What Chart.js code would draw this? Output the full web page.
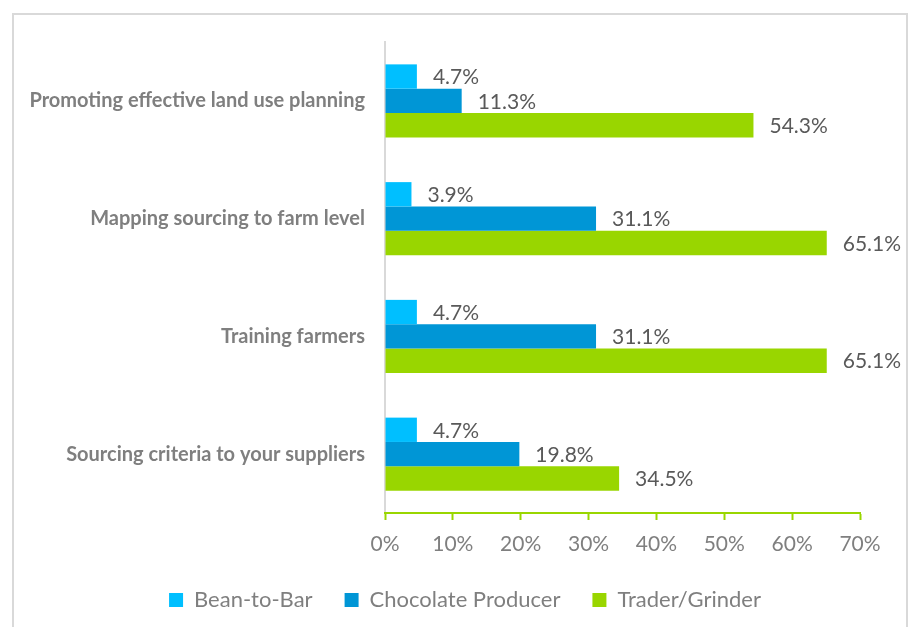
<!DOCTYPE html>
<html>
<head>
<meta charset="utf-8">
<script src="https://cdn.jsdelivr.net/npm/chart.js@4.4.1/dist/chart.umd.min.js"></script>
<style>
  html, body { margin: 0; padding: 0; background: #fff; }
  #frame {
    position: absolute; left: 12px; top: 13px;
    width: 896px; height: 700px;
    border: 2px solid #d9d9d9; box-sizing: border-box;
  }
  #wrap { position: absolute; left: 0; top: 0; width: 917px; height: 627px; }
</style>
</head>
<body>
<div id="frame"></div>
<div id="wrap"><canvas id="chart"></canvas></div>
<script>
const categories = [
  "Promoting effective land use planning",
  "Mapping sourcing to farm level",
  "Training farmers",
  "Sourcing criteria to your suppliers",
];
const beanToBar = [4.7, 3.9, 4.7, 4.7];
const chocolateProducer = [11.3, 31.1, 31.1, 19.8];
const traderGrinder = [54.3, 65.1, 65.1, 34.5];
const xTicks = [0, 10, 20, 30, 40, 50, 60, 70];

const seriesColours = ["#00bfff", "#0096d6", "#99d600"];
const font = "Lato";

// draws the value at the end of every bar
const barLabels = {
  id: "barLabels",
  afterDatasetsDraw(chart) {
    const ctx = chart.ctx;
    ctx.save();
    ctx.font = "21px " + font;
    ctx.fillStyle = "#595959";
    ctx.textAlign = "left";
    ctx.textBaseline = "middle";
    chart.data.datasets.forEach((ds, i) => {
      chart.getDatasetMeta(i).data.forEach((bar, j) => {
        ctx.fillText(ds.data[j].toFixed(1) + "%", bar.x + 16, bar.y + 1);
      });
    });
    ctx.restore();
  },
};

// centre the legend on the whole frame, not just the plot width
const legendCentre = {
  id: "legendCentre",
  beforeDraw(chart) {
    chart.legend.left = 13;
    chart.legend.right = 917;
  },
};

new Chart(document.getElementById("chart"), {
  type: "bar",
  data: {
    labels: categories,
    datasets: [
      { label: "Bean-to-Bar", data: beanToBar, backgroundColor: seriesColours[0] },
      { label: "Chocolate Producer", data: chocolateProducer, backgroundColor: seriesColours[1] },
      { label: "Trader/Grinder", data: traderGrinder, backgroundColor: seriesColours[2] },
    ],
  },
  options: {
    indexAxis: "y",
    responsive: true,
    maintainAspectRatio: false,
    animation: false,
    categoryPercentage: 0.62,
    barPercentage: 1,
    layout: {
      padding: { top: 42, right: 57, left: 0, bottom: 6 },
    },
    scales: {
      y: {
        afterFit: (scale) => { scale.width = 385; },
        grid: { display: true, drawOnChartArea: false, drawTicks: false },
        border: { color: "#d9d9d9", width: 2 },
        ticks: {
          padding: 20,
          color: "#7f7f7f",
          font: { family: font, size: 20, weight: "bold" },
        },
      },
      x: {
        min: 0,
        max: 70,
        afterBuildTicks: (scale) => { scale.ticks = xTicks.map((v) => ({ value: v })); },
        afterFit: (scale) => { scale.height = 44; },
        grid: {
          drawOnChartArea: false,
          drawTicks: true,
          tickLength: 7,
          tickWidth: 2,
          tickColor: "#99d600",
        },
        border: { color: "#99d600", width: 2 },
        ticks: {
          padding: 12,
          color: "#7f7f7f",
          font: { family: font, size: 21 },
          callback: (v) => v + "%",
        },
      },
    },
    plugins: {
      legend: {
        position: "bottom",
        labels: {
          boxWidth: 14,
          boxHeight: 14,
          padding: 32,
          color: "#7f7f7f",
          font: { family: font, size: 22 },
        },
      },
      tooltip: { enabled: false },
    },
  },
  plugins: [barLabels, legendCentre],
});
</script>
</body>
</html>
